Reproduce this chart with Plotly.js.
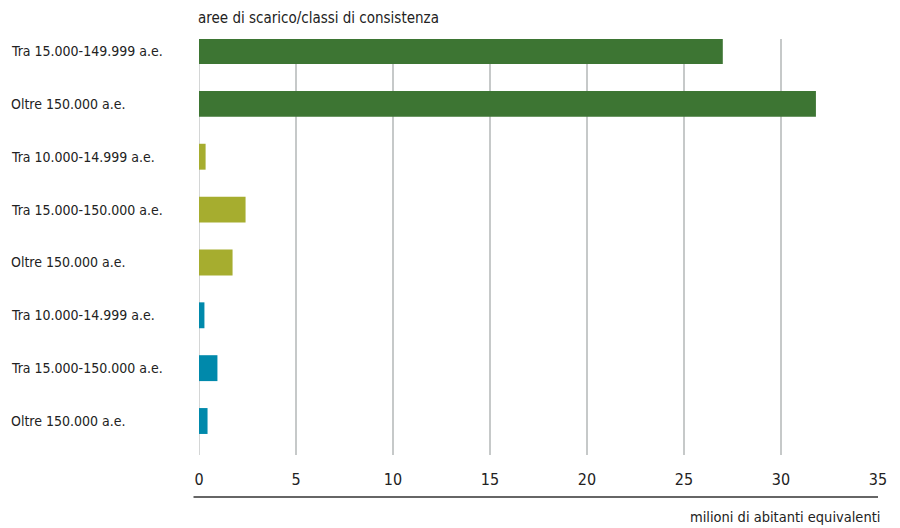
<!DOCTYPE html>
<html>
<head>
<meta charset="utf-8">
<script src="https://cdn.plot.ly/plotly-3.0.1.min.js"></script>
<style>html,body{margin:0;padding:0;background:#fff;}#chart{width:900px;height:528px;}</style>
</head>
<body>
<div id="chart"></div>
<script>
const categories = [
  "Tra 15.000-149.999 a.e.",
  "Oltre 150.000 a.e.",
  "Tra 10.000-14.999 a.e.",
  "Tra 15.000-150.000 a.e.",
  "Oltre 150.000 a.e.",
  "Tra 10.000-14.999 a.e.",
  "Tra 15.000-150.000 a.e.",
  "Oltre 150.000 a.e."
];
const values = [27.0, 31.8, 0.34, 2.4, 1.73, 0.28, 0.95, 0.44];
const groupColors = ["#3d7533", "#3d7533", "#a6ad2f", "#a6ad2f", "#a6ad2f", "#0089ab", "#0089ab", "#0089ab"];
const xTicks = [0, 5, 10, 15, 20, 25, 30, 35];
const yTitle = "aree di scarico/classi di consistenza";
const xTitle = "milioni di abitanti equivalenti";

const FONT = "'Liberation Sans Narrow', 'DejaVu Sans Condensed', 'Arial Narrow', sans-serif";
const positions = categories.map((c, i) => i);

const trace = {
  type: "bar",
  orientation: "h",
  x: values,
  y: positions,
  width: 0.49,
  marker: { color: groupColors, line: { width: 0 } },
  hoverinfo: "x+text",
  text: categories,
  textposition: "none"
};

const W = 680, H = 416;
const annotations = categories.map((c, i) => ({
  xref: "paper", yref: "y",
  x: (8 - 198.5) / W, y: i,
  xanchor: "left", yanchor: "middle",
  text: c, showarrow: false,
  font: { family: FONT, size: 14, color: "#222" }
}));
annotations.push({
  xref: "paper", yref: "paper",
  x: -3 / W, y: 1 + (39 - 18) / H,
  xanchor: "left", yanchor: "middle",
  text: yTitle, showarrow: false,
  font: { family: FONT, size: 15, color: "#222" }
});
annotations.push({
  xref: "paper", yref: "paper",
  x: (883 - 198.5) / W, y: -(517 - 455) / H,
  xanchor: "right", yanchor: "middle",
  text: xTitle, showarrow: false,
  font: { family: FONT, size: 14.5, color: "#222" }
});

const layout = {
  width: 900, height: 528,
  margin: { l: 198.5, r: 21.5, t: 39, b: 73, pad: 0 },
  paper_bgcolor: "#fff", plot_bgcolor: "#fff",
  showlegend: false,
  bargap: 0.5,
  xaxis: {
    range: [0, 35],
    tickvals: xTicks,
    ticktext: xTicks.map(String),
    showgrid: true, gridcolor: "#c6c9c9", gridwidth: 1.5,
    zeroline: false, showline: false, ticks: "",
    ticklabelstandoff: 13,
    tickfont: { family: FONT, size: 16, color: "#222" }
  },
  yaxis: {
    range: [7.643, -0.227],
    showticklabels: false, showgrid: false, zeroline: false, showline: false, ticks: ""
  },
  shapes: [
    { type: "line", xref: "x", yref: "paper", x0: 0, x1: 0, y0: 0, y1: 1, line: { color: "#c6c9c9", width: 1.5 }, layer: "below" },
    { type: "line", xref: "paper", yref: "paper", x0: (193 - 198.5) / W, x1: 1, y0: -(497 - 455) / H, y1: -(497 - 455) / H, line: { color: "#333", width: 1.5 } }
  ],
  annotations: annotations
};

Plotly.newPlot("chart", [trace], layout, { displayModeBar: false, staticPlot: true });
</script>
</body>
</html>
